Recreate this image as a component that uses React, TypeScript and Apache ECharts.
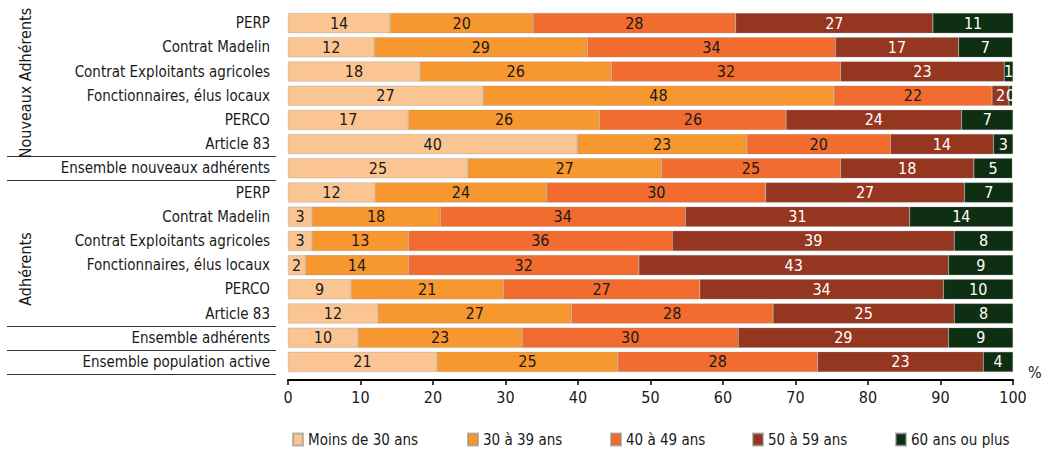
import React, { useEffect, useRef } from "react";
import * as echarts from "echarts";

const categories = [
  "PERP",
  "Contrat Madelin",
  "Contrat Exploitants agricoles",
  "Fonctionnaires, élus locaux",
  "PERCO",
  "Article 83",
  "Ensemble nouveaux adhérents",
  "PERP",
  "Contrat Madelin",
  "Contrat Exploitants agricoles",
  "Fonctionnaires, élus locaux",
  "PERCO",
  "Article 83",
  "Ensemble adhérents",
  "Ensemble population active",
];

const seriesNames = ["Moins de 30 ans", "30 à 39 ans", "40 à 49 ans", "50 à 59 ans", "60 ans ou plus"];

const moins30 = [14.1, 11.9, 18.2, 26.9, 16.6, 39.9, 24.8, 12.0, 3.3, 3.3, 2.4, 8.7, 12.4, 9.65, 20.55];
const de30a39 = [19.7, 29.4, 26.4, 48.4, 26.4, 23.4, 26.7, 23.7, 17.7, 13.3, 14.2, 21.0, 26.7, 22.65, 24.95];
const de40a49 = [27.95, 34.2, 31.6, 21.8, 25.7, 19.8, 24.7, 30.2, 33.8, 36.4, 31.8, 27.1, 27.8, 29.8, 27.55];
const de50a59 = [27.2, 17.0, 22.6, 2.35, 24.2, 14.2, 18.4, 27.4, 30.95, 38.9, 42.7, 33.6, 25.0, 29.0, 22.85];
const plus60 = [11.1, 7.4, 1.2, 0.45, 7.1, 2.7, 5.3, 6.7, 14.25, 8.1, 8.9, 9.6, 8.1, 8.9, 4.1];

const values = [moins30, de30a39, de40a49, de50a59, plus60];
const colors = ["#FBC593", "#F7972F", "#F26C2F", "#953620", "#0E2F12"];
const labelColors = ["#1a1a1a", "#1a1a1a", "#1a1a1a", "#ffffff", "#ffffff"];
const legendLeft = [292, 467, 610, 752, 895];

const FONT = "'Liberation Sans Narrow', 'Arial Narrow', 'DejaVu Sans Condensed', sans-serif";

export default function App() {
  const ref = useRef<HTMLDivElement>(null);
  useEffect(() => {
    if (!ref.current) return;
    const chart = echarts.init(ref.current, null, { renderer: "svg" });
    const top = 11;
    const bottomY = 374;
    const band = (bottomY - top) / categories.length;
    const sepRows = [6, 7, 13, 14, 15];
    const sepLines = sepRows.map((r) => ({
      type: "line",
      shape: { x1: 7, y1: Math.round(top + r * band) + 0.5, x2: 276, y2: Math.round(top + r * band) + 0.5 },
      style: { stroke: "#333", lineWidth: 1 },
    }));
    chart.setOption({
      animation: false,
      textStyle: { fontFamily: FONT },
      grid: { left: 288, right: 29, top: top, bottom: 449 - bottomY },
      xAxis: {
        type: "value",
        min: 0,
        max: 100,
        interval: 10,
        offset: 6,
        axisLine: { show: true, lineStyle: { color: "#000", width: 2 } },
        axisTick: { show: true, length: 5, lineStyle: { color: "#000", width: 1.5 } },
        axisLabel: { fontSize: 16, color: "#1a1a1a", margin: 9, fontFamily: FONT },
        splitLine: { show: false },
      },
      yAxis: {
        type: "category",
        inverse: true,
        data: categories,
        axisLine: { show: false },
        axisTick: { show: false },
        axisLabel: { fontSize: 15, color: "#1a1a1a", margin: 18, fontFamily: FONT },
      },
      legend: seriesNames.map((name, i) => ({
        left: legendLeft[i],
        top: 432,
        icon: "rect",
        itemWidth: 10,
        itemHeight: 12,
        padding: 0,
        itemGap: 0,
        textStyle: { fontSize: 15, lineHeight: 13, color: "#1a1a1a", fontFamily: FONT },
        data: [name],
      })),
      series: seriesNames.map((name, i) => ({
        name,
        type: "bar",
        stack: "total",
        barCategoryGap: "17%",
        data: values[i],
        itemStyle: { color: colors[i], borderColor: "rgba(140,140,140,0.6)", borderWidth: 0.5 },
        label: {
          show: true,
          position: "inside",
          fontSize: 16,
          color: labelColors[i],
          fontFamily: FONT,
          formatter: (p: any) => String(Math.round(p.value)),
        },
      })),
      graphic: [
        ...sepLines,
        {
          type: "text",
          x: 25,
          y: 83,
          rotation: Math.PI / 2,
          style: { text: "Nouveaux Adhérents", fontSize: 16, fill: "#1a1a1a", fontFamily: FONT, align: "center", verticalAlign: "middle" },
        },
        {
          type: "text",
          x: 25,
          y: 269,
          rotation: Math.PI / 2,
          style: { text: "Adhérents", fontSize: 16, fill: "#1a1a1a", fontFamily: FONT, align: "center", verticalAlign: "middle" },
        },
        {
          type: "text",
          x: 1028,
          y: 372,
          style: { text: "%", fontSize: 16, fill: "#1a1a1a", fontFamily: FONT, align: "left", verticalAlign: "middle" },
        },
      ],
    });
    return () => chart.dispose();
  }, []);
  return <div ref={ref} style={{ width: 1042, height: 449, position: "absolute", left: 0, top: 0 }} />;
}
